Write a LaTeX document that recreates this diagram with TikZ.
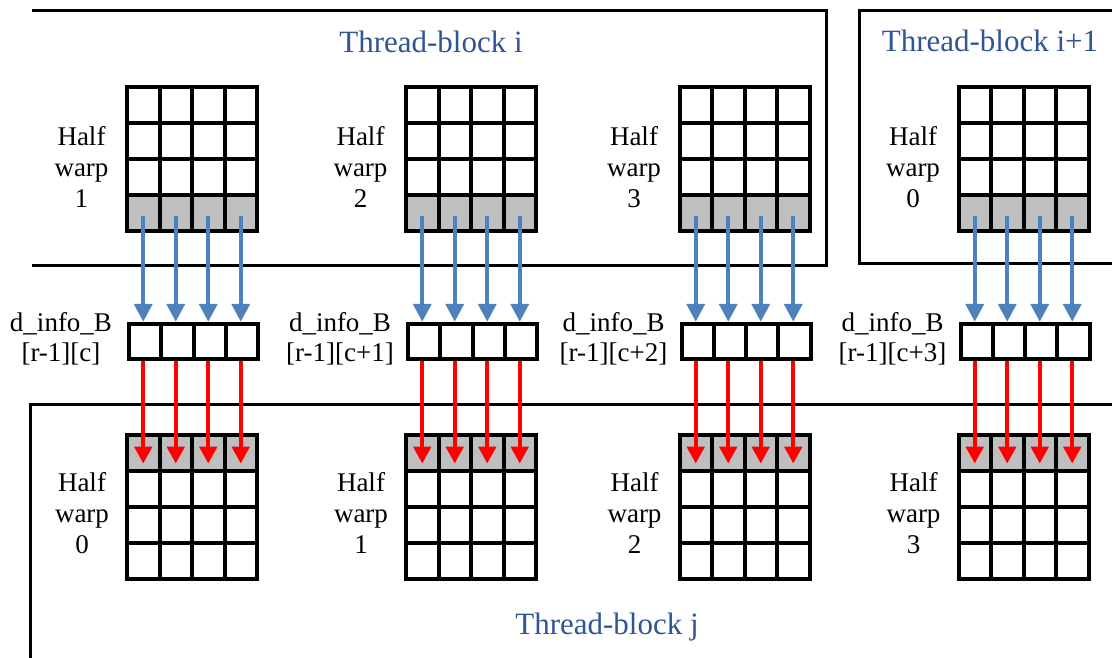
\documentclass[tikz,border=0pt]{standalone}
\usepackage{fontspec}
\setmainfont{Liberation Serif}
\usetikzlibrary{arrows.meta,calc}
\definecolor{blockblue}{HTML}{2F5597}
\definecolor{arrowblue}{HTML}{4F81BD}
\definecolor{cellgray}{HTML}{BFBFBF}
\definecolor{arrowred}{HTML}{FF0000}
\tikzset{
  cell/.style={draw=black, line width=4pt, minimum width=32.5pt, minimum height=36pt,
               inner sep=0pt, fill=white},
  hotcell/.style={cell, fill=cellgray},
  infocell/.style={draw=black, line width=4pt, minimum width=32.25pt, minimum height=35.5pt,
                   inner sep=0pt, fill=white},
  border/.style={line width=3pt, draw=black},
  title/.style={text=blockblue, font=\fontsize{31}{37}\selectfont, anchor=base, inner sep=0pt},
  warplabel/.style={font=\fontsize{27}{30.75}\selectfont, align=center, text width=80pt,
                    anchor=base, inner sep=0pt},
  infolabel/.style={font=\fontsize{27}{29.5}\selectfont, align=center, text width=130pt,
                    anchor=base, inner sep=0pt},
  loadarrow/.style={draw=arrowblue, line width=4pt, -{Triangle[length=18pt,width=18pt]}},
  storearrow/.style={draw=arrowred, line width=4pt, -{Triangle[length=17pt,width=17.5pt]}},
}
\begin{document}
\begin{tikzpicture}[x=1pt,y=-1pt]
\useasboundingbox (0,0) rectangle (1112,657);
\clip (0,0) rectangle (1112,657);

% thread-block outlines
\coordinate (bi-a) at (32,10.5);
\coordinate (bi-b) at (826.5,10.5);
\coordinate (bi-c) at (826.5,265.5);
\coordinate (bi-d) at (32,265.5);
\draw[border] (bi-a) -- (bi-b) -- (bi-c) -- (bi-d);
\coordinate (bn-a) at (1130,10);
\coordinate (bn-b) at (859.5,10);
\coordinate (bn-c) at (859.5,263.5);
\coordinate (bn-d) at (1130,263.5);
\draw[border] (bn-a) -- (bn-b) -- (bn-c) -- (bn-d);
\coordinate (bj-a) at (1130,404);
\coordinate (bj-b) at (30.7,404);
\coordinate (bj-c) at (30.7,680);
\draw[border] (bj-a) -- (bj-b) -- (bj-c);

\node[title] (ti) at (431,52) {Thread-block i};
\node[title] (tn) at (990,51.7) {Thread-block i+1};
\node[title] (tj) at (607,634.3) {Thread-block j};

% source half warps (top), d_info_B buffers, destination half warps (bottom)
\foreach \i/\gx/\tn/\bn/\col in {1/127/1/0/c, 2/406/2/1/c+1, 3/679.5/3/2/c+2, 4/958.5/0/3/c+3} {
  % top grid: rows 0-2 white, row 3 shaded
  \foreach \c in {0,...,3} {
    \foreach \r in {0,1,2}
      \node[cell] (t\i-r\r-c\c) at (\gx+16.25+32.5*\c, 105+36*\r) {};
    \node[hotcell] (t\i-r3-c\c) at (\gx+16.25+32.5*\c, 213) {};
  }
  % bottom grid: row 0 shaded, rows 1-3 white
  \foreach \c in {0,...,3} {
    \node[hotcell] (b\i-r0-c\c) at (\gx+16.25+32.5*\c, 452.5) {};
    \foreach \r in {1,2,3}
      \node[cell] (b\i-r\r-c\c) at (\gx+16.25+32.5*\c, 452.5+36*\r) {};
  }
  % d_info_B row buffer
  \foreach \c in {0,...,3}
    \node[infocell] (d\i-c\c) at (\gx+2+16.125+32.25*\c, 341.5) {};

  \node[warplabel] (tl\i) at (\gx-45.5,145.5) {Half\\warp\\\tn};
  \node[warplabel] (bl\i) at (\gx-45,491.7) {Half\\warp\\\bn};
  \node[infolabel] (dl\i) at (\gx-66,331.5) {d\_info\_B\\{}[r-1][\col]};

  \foreach \c in {0,...,3} {
    \draw[loadarrow] ([yshift=-3pt]t\i-r3-c\c.center) -- (t\i-r3-c\c.center |- d\i-c\c.north);
    \draw[storearrow] (b\i-r0-c\c.center |- d\i-c\c.south) -- ([yshift=-11pt]b\i-r0-c\c.center);
  }
}
\end{tikzpicture}
\end{document}
